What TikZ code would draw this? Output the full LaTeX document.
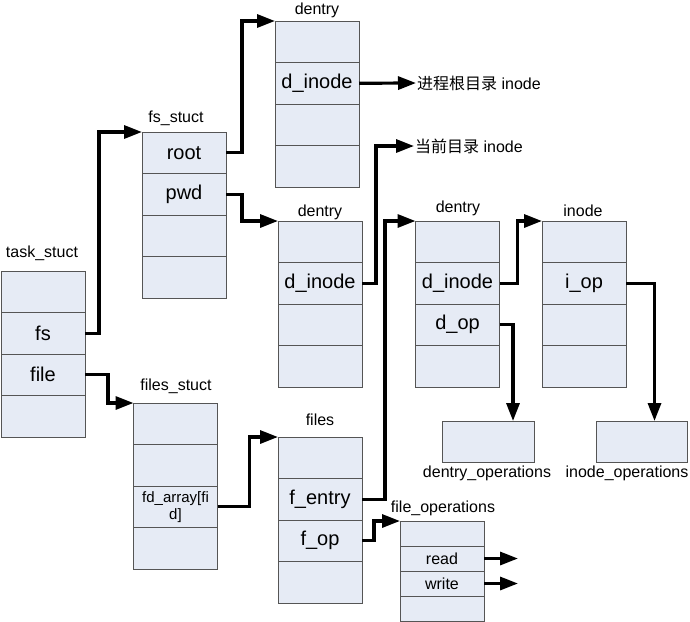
\documentclass[tikz,border=0pt]{standalone}
\usepackage{fontspec}
\setmainfont{Liberation Sans}
\newfontfamily\cjk{Noto Sans CJK SC}
\usetikzlibrary{arrows.meta,positioning}

\definecolor{cellfill}{RGB}{230,235,245}
\definecolor{cellline}{RGB}{85,85,85}

\begin{document}
\begin{tikzpicture}[x=1pt,y=-1pt,
  ptr/.style={-{Triangle[length=18pt,width=13pt]},line width=3.2pt},
  cell/.style={draw=cellline,fill=cellfill,line width=1pt,minimum width=84pt,
    minimum height=41.5pt,inner sep=0pt,outer sep=0pt,
    font=\fontsize{20}{22}\selectfont},
  opcell/.style={cell,minimum height=25pt,font=\fontsize{16}{18}\selectfont},
  tag/.style={font=\fontsize{16}{18}\selectfont,inner sep=0pt}]
  \useasboundingbox (0,0) rectangle (690,621);

  % task_stuct
  \node[cell] (t1) at (43,291.75) {};
  \node[cell] (t2) [below=0pt of t1] {fs};
  \node[cell] (t3) [below=0pt of t2] {file};
  \node[cell] (t4) [below=0pt of t3] {};
  \node[tag] at (42,253) {task\_stuct};

  % fs_stuct
  \node[cell] (f1) at (184,152.75) {root};
  \node[cell] (f2) [below=0pt of f1] {pwd};
  \node[cell] (f3) [below=0pt of f2] {};
  \node[cell] (f4) [below=0pt of f3] {};
  \node[tag] at (176,118) {fs\_stuct};

  % dentry of root
  \node[cell] (dA1) at (317,41.75) {};
  \node[cell] (dA2) [below=0pt of dA1] {d\_inode};
  \node[cell] (dA3) [below=0pt of dA2] {};
  \node[cell] (dA4) [below=0pt of dA3] {};
  \node[tag] at (317,10) {dentry};
  \node[tag,anchor=west,inner sep=1pt] (rootino) at (416,83) {{\cjk 进程根目录} inode};

  % dentry of pwd
  \node[cell] (dB1) at (320,241.75) {};
  \node[cell] (dB2) [below=0pt of dB1] {d\_inode};
  \node[cell] (dB3) [below=0pt of dB2] {};
  \node[cell] (dB4) [below=0pt of dB3] {};
  \node[tag] at (320,212) {dentry};
  \node[tag,anchor=west,inner sep=1pt] (curino) at (414,146) {{\cjk 当前目录} inode};

  % dentry of file
  \node[cell] (dC1) at (457.5,241.75) {};
  \node[cell] (dC2) [below=0pt of dC1] {d\_inode};
  \node[cell] (dC3) [below=0pt of dC2] {d\_op};
  \node[cell] (dC4) [below=0pt of dC3] {};
  \node[tag] at (458,208) {dentry};

  % inode
  \node[cell] (in1) at (584,241.75) {};
  \node[cell] (in2) [below=0pt of in1] {i\_op};
  \node[cell] (in3) [below=0pt of in2] {};
  \node[cell] (in4) [below=0pt of in3] {};
  \node[tag] at (583,211) {inode};

  % operations
  \node[cell,minimum width=92pt,minimum height=41pt] (dops) at (488,441.5) {};
  \node[tag] at (487,473) {dentry\_operations};
  \node[cell,minimum width=91pt,minimum height=41pt] (iops) at (641.5,441.5) {};
  \node[tag] at (627,473) {inode\_operations};

  % files_stuct
  \node[cell] (fs1) at (175.5,423.75) {};
  \node[cell] (fs2) [below=0pt of fs1] {};
  \node[cell,font=\fontsize{15}{17}\selectfont,align=center] (fs3) [below=0pt of fs2] {fd\_array[fi\\d]};
  \node[cell] (fs4) [below=0pt of fs3] {};
  \node[tag] at (176,386) {files\_stuct};

  % files
  \node[cell] (fi1) at (320,457.75) {};
  \node[cell] (fi2) [below=0pt of fi1] {f\_entry};
  \node[cell] (fi3) [below=0pt of fi2] {f\_op};
  \node[cell] (fi4) [below=0pt of fi3] {};
  \node[tag] at (320,420) {files};

  % file_operations
  \node[opcell] (fo1) at (442,533.5) {};
  \node[opcell] (fo2) [below=0pt of fo1] {read};
  \node[opcell] (fo3) [below=0pt of fo2] {write};
  \node[opcell] (fo4) [below=0pt of fo3] {};
  \node[tag] at (443,508) {file\_operations};
  \coordinate[right=34pt of fo2.east] (rdend);
  \coordinate[right=34pt of fo3.east] (wrend);

  % pointers
  \draw[ptr] (t2.east) -- ++(14,0) |- (f1.north west);
  \draw[ptr] (t3.east) -- ++(23,0) |- (fs1.north west);
  \draw[ptr] (f1.east) -- ++(16,0) |- (dA1.north west);
  \draw[ptr] (f2.east) -- ++(16,0) |- (dB1.north west);
  \draw[ptr] (dA2.east) -- (rootino.west);
  \draw[ptr] (dB2.east) -- ++(14,0) |- (curino.west);
  \draw[ptr] (fi2.east) -- ++(23,0) |- (dC1.north west);
  \draw[ptr] (dC2.east) -- ++(18,0) |- (in1.north west);
  \draw[ptr] (dC3.east) -| ([xshift=25pt]dops.north);
  \draw[ptr] (in2.east) -| ([xshift=13pt]iops.north);
  \draw[ptr] (fs3.east) -- ++(32,0) |- (fi1.north west);
  \draw[ptr] (fi3.east) -- ++(12,0) |- (fo1.north west);
  \draw[ptr] (fo2.east) -- (rdend);
  \draw[ptr] (fo3.east) -- (wrend);
\end{tikzpicture}
\end{document}
